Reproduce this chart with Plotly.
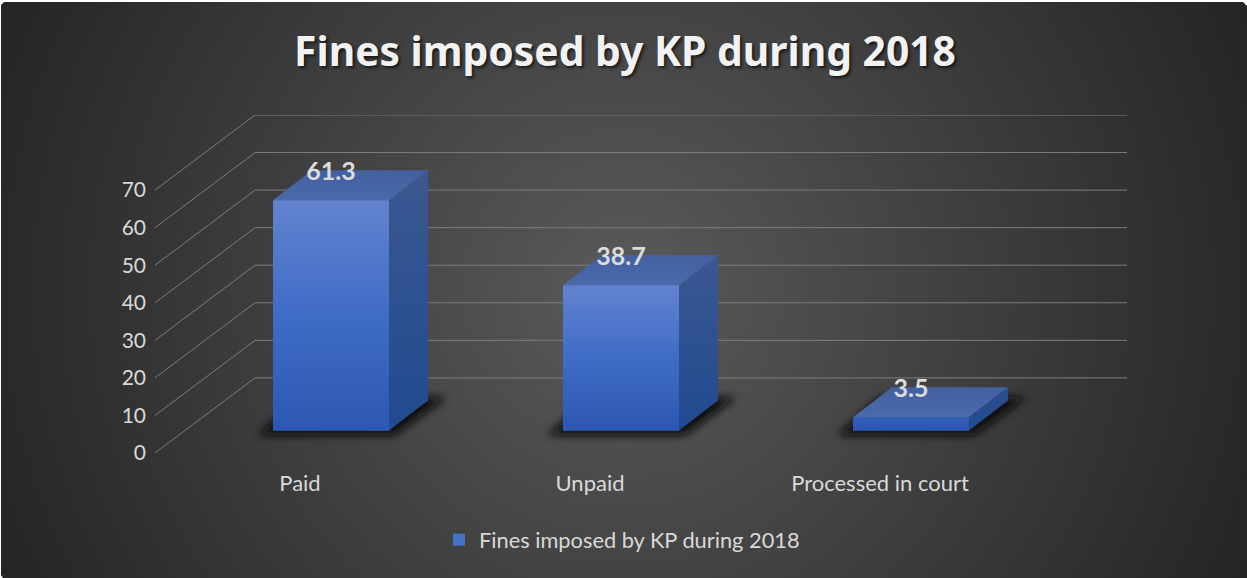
import urllib.parse
import plotly.graph_objects as go

# Chart content
TITLE = "Fines imposed by KP during 2018"
categories = ["Paid", "Unpaid", "Processed in court"]
values = [61.3, 38.7, 3.5]
y_ticks = [0, 10, 20, 30, 40, 50, 60, 70]

# Oblique projection expressed in axis units
WALL_DX, WALL_DY = 0.345, 20.0
BAR_DX, BAR_DY = 0.1345, 8.0
BAR_OFFSET_X, BAR_OFFSET_Y = 0.107, 6.0
BAR_HALF = 0.2
X_MIN, X_MAX = -0.5, 2.8517
Y_MAX = 90.0
TEXT = "#d9d9d9"
FONT = "Lato"
MIN_GRADIENT_SPAN = 25.0


def svg_uri(svg):
    return "data:image/svg+xml," + urllib.parse.quote(svg)


# Dark radial backdrop on white, with chamfered corners except at the lower right
background = svg_uri(
    '<svg xmlns="http://www.w3.org/2000/svg" width="1247" height="578">'
    '<defs><radialGradient id="g" gradientUnits="userSpaceOnUse" cx="623" cy="289" r="690">'
    '<stop offset="0" stop-color="#5a5a5a"/><stop offset="1" stop-color="#242424"/>'
    '</radialGradient></defs>'
    '<rect width="1247" height="578" fill="#ffffff"/>'
    '<path d="M4,2 H1243 L1247,6 V578 H3 L1,575 V5 Z" fill="url(#g)"/></svg>'
)
shadow = svg_uri(
    '<svg xmlns="http://www.w3.org/2000/svg" width="260" height="60" viewBox="0 0 260 60">'
    '<defs><filter id="b" x="-20%" y="-60%" width="140%" height="220%">'
    '<feGaussianBlur stdDeviation="4.5"/></filter></defs>'
    '<polygon points="28,46 165,46 217,8 70,8" fill="#0a0a0a" filter="url(#b)"/></svg>'
)


def face(xs, ys, colors, span_start, span_stop, name):
    step = 1 / (len(colors) - 1)
    return go.Scatter(
        x=xs, y=ys, mode="lines", fill="toself", line=dict(width=0),
        fillgradient=dict(type="vertical", start=span_start, stop=span_stop,
                          colorscale=[[i * step, c] for i, c in enumerate(colors)]),
        hoverinfo="skip", showlegend=False, name=name,
    )


fig = go.Figure()

# Floor-to-wall guide lines for each value tick
grid_x, grid_y = [], []
for tick in y_ticks:
    grid_x += [X_MIN, X_MIN + WALL_DX, X_MAX, None]
    grid_y += [tick, tick + WALL_DY, tick + WALL_DY, None]
fig.add_trace(go.Scatter(
    x=grid_x, y=grid_y, mode="lines", line=dict(color="#7d7d7d", width=1),
    hoverinfo="skip", showlegend=False, cliponaxis=False,
))

# Front faces
front_x = [i + BAR_OFFSET_X for i in range(len(values))]
fig.add_trace(go.Bar(
    x=front_x, y=values, base=BAR_OFFSET_Y, width=2 * BAR_HALF,
    marker=dict(color="#4472c4", line=dict(width=0)), name=TITLE,
))

images = [dict(source=background, xref="paper", yref="paper", x=-155 / 972, y=1 + 115 / 338,
               sizex=1247 / 972, sizey=578 / 338, sizing="stretch", layer="below",
               xanchor="left", yanchor="top")]

for x0, v in zip(front_x, values):
    left, right = x0 - BAR_HALF, x0 + BAR_HALF
    base, top = BAR_OFFSET_Y, BAR_OFFSET_Y + v
    span_top = base + max(v, MIN_GRADIENT_SPAN)
    fig.add_trace(face([left, right, right, left, left], [base, base, top, top, base],
                       ["#2c58b4", "#3f6cc7", "#6383cf"], base, span_top, "front"))
    fig.add_trace(face([right, right + BAR_DX, right + BAR_DX, right, right],
                       [base, base + BAR_DY, top + BAR_DY, top, base],
                       ["#214a90", "#3b5891"], base, span_top + BAR_DY, "side"))
    fig.add_trace(face([left, right, right + BAR_DX, left + BAR_DX, left],
                       [top, top, top + BAR_DY, top + BAR_DY, top],
                       ["#4a6aa9", "#43609f"], top, top + BAR_DY, "top"))
    images.append(dict(source=shadow, xref="x", yref="y", x=left - 0.15, y=base + 11,
                       sizex=260 / 290, sizey=60 / 3.7556, sizing="stretch", layer="below",
                       xanchor="left", yanchor="top"))

# Value labels sit on the rear edge of each bar's top face
fig.add_trace(go.Scatter(
    x=front_x, y=[BAR_OFFSET_Y + BAR_DY - 1 + v for v in values],
    mode="text", text=[str(v) for v in values], textposition="middle center",
    textfont=dict(family=FONT, size=25, color="#dcdcdc", weight="bold"),
    hoverinfo="skip", showlegend=False, cliponaxis=False,
))

fig.update_layout(
    width=1247, height=578,
    margin=dict(l=155, r=120, t=115, b=125, autoexpand=False),
    paper_bgcolor="#333333", plot_bgcolor="rgba(0,0,0,0)",
    images=images,
    font=dict(family=FONT, color=TEXT, size=22),
    title=dict(
        text=f"<b>{TITLE}</b>", x=625 / 1247, xanchor="center", y=1 - 52 / 578, yanchor="middle",
        font=dict(family="Noto Sans", size=40.8, color="#f2f2f2",
                  shadow="2px 2px 3px rgba(0,0,0,0.65)"),
    ),
    xaxis=dict(range=[X_MIN, X_MAX], tickmode="array", tickvals=list(range(len(categories))),
               ticktext=categories, showgrid=False, zeroline=False, showline=False,
               ticks="", ticklabelstandoff=15, fixedrange=True),
    yaxis=dict(range=[0, Y_MAX], tickmode="array", tickvals=y_ticks, showgrid=False,
               zeroline=False, showline=False, ticks="", ticklabelstandoff=8, fixedrange=True,
               tickfont=dict(size=21)),
    showlegend=True,
    legend=dict(orientation="h", xref="container", yref="container", x=439 / 1247,
                xanchor="left", y=1 - 540 / 578, yanchor="middle", font=dict(size=21.8),
                bgcolor="rgba(0,0,0,0)"),
)

fig.write_html("out.html")
